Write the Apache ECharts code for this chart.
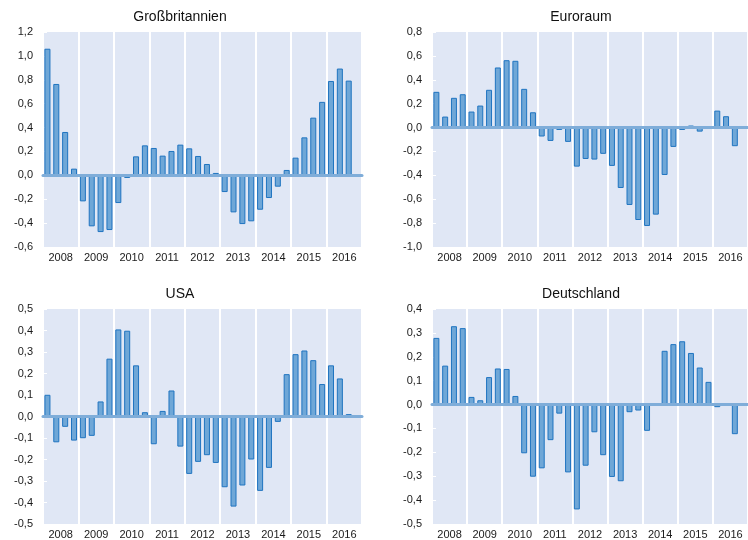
<!DOCTYPE html>
<html>
<head>
<meta charset="utf-8">
<script src="https://cdn.jsdelivr.net/npm/echarts@6/dist/echarts.min.js"></script>
<style>
  html, body { margin: 0; padding: 0; background: #fff; }
  #chart { width: 748px; height: 540px; }
</style>
</head>
<body>
<div id="chart"></div>
<script>
const years = ['2008', '2009', '2010', '2011', '2012', '2013', '2014', '2015', '2016']
const quarters = []
years.forEach(function (y) {
    for (let q = 1; q <= 4; q++) quarters.push(y + ' Q' + q)
})

const gbValues = [
    1.06, 0.765, 0.363, 0.056,
    -0.218, -0.427, -0.475, -0.458,
    -0.232, -0.022, 0.159, 0.251,
    0.229, 0.165, 0.204, 0.257,
    0.226, 0.162, 0.095, 0.02,
    -0.14, -0.31, -0.408, -0.385,
    -0.288, -0.19, -0.095, 0.045,
    0.148, 0.318, 0.483, 0.615,
    0.79, 0.894, 0.793, null
]
const euroValues = [
    0.299, 0.092, 0.249, 0.279,
    0.134, 0.184, 0.316, 0.503,
    0.564, 0.559, 0.324, 0.128,
    -0.075, -0.112, -0.02, -0.12,
    -0.327, -0.263, -0.268, -0.22,
    -0.321, -0.506, -0.648, -0.774,
    -0.824, -0.729, -0.397, -0.162,
    -0.02, 0.017, -0.034, 0.011,
    0.142, 0.095, -0.156, null
]
const usaValues = [
    0.101, -0.12, -0.048, -0.112,
    -0.101, -0.09, 0.07, 0.269,
    0.405, 0.399, 0.238, 0.02,
    -0.129, 0.026, 0.121, -0.14,
    -0.267, -0.211, -0.18, -0.216,
    -0.329, -0.419, -0.321, -0.2,
    -0.346, -0.239, -0.025, 0.197,
    0.29, 0.307, 0.262, 0.151,
    0.238, 0.177, 0.011, null
]
const deValues = [
    0.279, 0.163, 0.328, 0.32,
    0.032, 0.018, 0.115, 0.151,
    0.149, 0.036, -0.204, -0.302,
    -0.267, -0.149, -0.038, -0.284,
    -0.439, -0.256, -0.116, -0.212,
    -0.303, -0.321, -0.032, -0.025,
    -0.11, -0.005, 0.225, 0.253,
    0.265, 0.216, 0.155, 0.095,
    -0.011, 0.006, -0.124, null
]

// Achsen: [min, max, interval]
const gbTicks = [-0.6, 1.2, 0.2]
const euroTicks = [-1.0, 0.8, 0.2]
const usaTicks = [-0.5, 0.5, 0.1]
const deTicks = [-0.5, 0.4, 0.1]

const panels = [
    { title: 'Großbritannien', values: gbValues, ticks: gbTicks, left: 43, top: 32, cx: 180 },
    { title: 'Euroraum', values: euroValues, ticks: euroTicks, left: 432, top: 32, cx: 581 },
    { title: 'USA', values: usaValues, ticks: usaTicks, left: 43, top: 309, cx: 180 },
    { title: 'Deutschland', values: deValues, ticks: deTicks, left: 432, top: 309, cx: 581 }
]

const font = '"Liberation Sans", Arial, sans-serif'
const fmt = function (v) { return v.toFixed(1).replace('.', ',') }

const option = {
    animation: false,
    backgroundColor: '#fff',
    title: [],
    grid: [],
    xAxis: [],
    yAxis: [],
    series: []
}

panels.forEach(function (p, i) {
    option.title.push({
        text: p.title,
        left: p.cx - 5,
        top: p.top - 27,
        textAlign: 'center',
        textStyle: { fontSize: 14, fontWeight: 'normal', color: '#111', fontFamily: font }
    })
    option.grid.push({
        left: p.left, top: p.top, width: 319, height: 215,
        show: true, backgroundColor: '#e0e7f5', borderWidth: 0
    })
    // Quartalsachse: Nulllinie
    option.xAxis.push({
        type: 'category', gridIndex: i, data: quarters, position: 'top', z: 5,
        axisLine: { onZero: true, lineStyle: { color: '#7fadd9', width: 3 } },
        axisTick: { show: false }, axisLabel: { show: false }, splitLine: { show: false }
    })
    // Jahresachse: Beschriftung und weiße Trennlinien
    option.xAxis.push({
        type: 'category', gridIndex: i, data: years, position: 'bottom',
        axisLine: { show: false, onZero: false }, axisTick: { show: false },
        axisLabel: { margin: 5, fontSize: 11, color: '#1a1a1a', fontFamily: font },
        splitLine: { show: true, interval: 0, lineStyle: { color: '#fff', width: 2 } }
    })
    option.yAxis.push({
        type: 'value', gridIndex: i,
        min: p.ticks[0], max: p.ticks[1], interval: p.ticks[2],
        axisLine: { show: false },
        axisTick: { show: true, inside: true, length: 4, lineStyle: { color: '#fff' } },
        splitLine: { show: false },
        axisLabel: { formatter: fmt, margin: 10, fontSize: 11, color: '#1a1a1a', fontFamily: font }
    })
    option.series.push({
        type: 'bar', name: p.title,
        xAxisIndex: i * 2, yAxisIndex: i,
        data: p.values, barWidth: '68%',
        itemStyle: { color: '#6fa7d7', borderColor: '#1f74c0', borderWidth: 1 }
    })
})

const myChart = echarts.init(document.getElementById('chart'))
myChart.setOption(option)
</script>
</body>
</html>
